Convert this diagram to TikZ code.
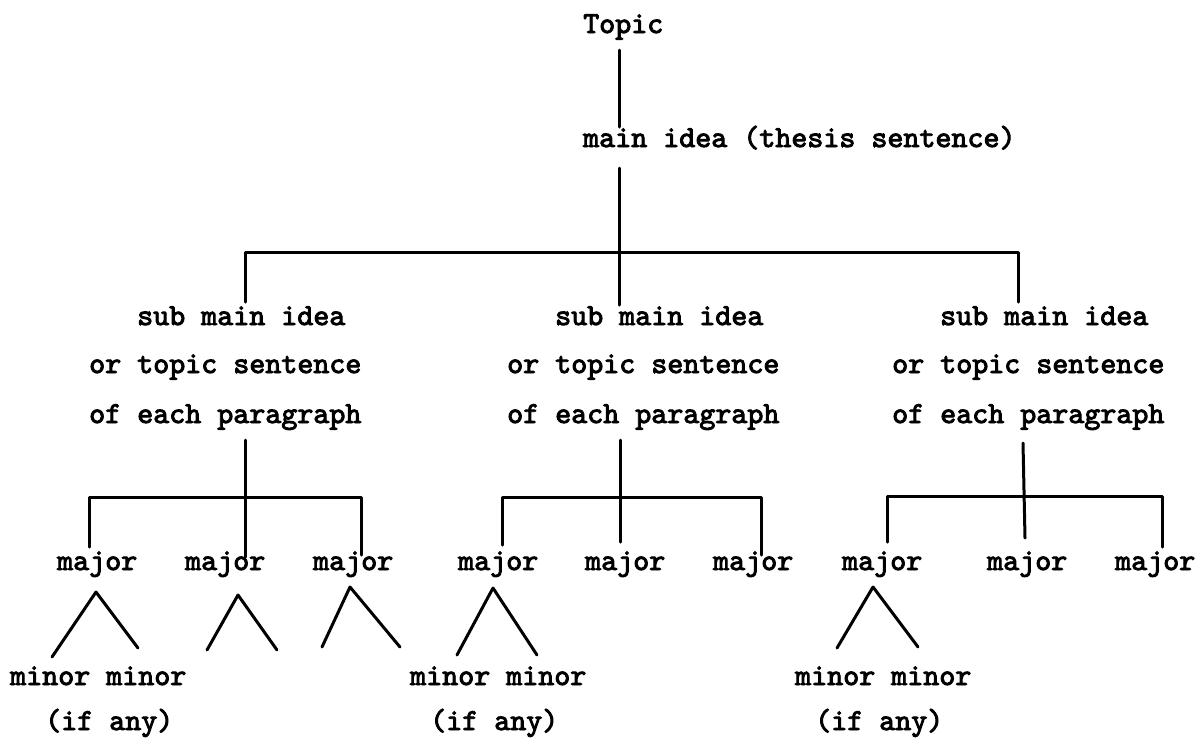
\documentclass[tikz,border=0pt]{standalone}
\usepackage{fontspec}
\newfontfamily\twfont{lmmono10-regular.otf}[FakeBold=3]
\newcommand\diagfont{\twfont\fontsize{30.5}{36}\selectfont}
\tikzset{
  lbl/.style={anchor=base west, inner sep=0pt, font=\diagfont, text=black},
  ln/.style={line width=3pt, line cap=round, line join=round, draw=black}
}
\begin{document}
\begin{tikzpicture}[x=1pt,y=-1pt]
\useasboundingbox[fill=white] (0,0) rectangle (1197,740);
% texts
\node[lbl] (topic) at (583,33) {Topic};
\node[lbl] (main) at (583,147) {main idea (thesis sentence)};
\foreach \n/\L in {a/89,b/507,c/892}{
  \node[lbl] (sub\n1) at (\L+48,325) {sub main idea};
  \node[lbl] (sub\n2) at (\L,373) {or topic sentence};
  \node[lbl] (sub\n3) at (\L,423) {of each paragraph};
}
\foreach \n/\X in {1/57,2/185,3/313,4/458,5/585,6/713,7/842,8/987,9/1115}{
  \node[lbl] (maj\n) at (\X,570) {major};
}
\foreach \n/\X/\Y in {a/10/45,b/410/430,c/795/815}{
  \node[lbl] (min\n) at (\X,685) {minor minor};
  \node[lbl] (ifany\n) at (\Y,730) {(if any)};
}
% connector points
\coordinate (t0) at (619,50);  \coordinate (t1) at (619,127);
\coordinate (m0) at (619,168); \coordinate (m1) at (619,305);
\coordinate (bl) at (245,252); \coordinate (br) at (1018,252);
\coordinate (bld) at (245,302); \coordinate (brd) at (1018,302);
\draw[ln] (t0) -- (t1);
\draw[ln] (m0) -- (m1);
\draw[ln] (bld) -- (bl) -- (br) -- (brd);
% group a
\coordinate (a0) at (245,440); \coordinate (a1) at (245,557);
\coordinate (al) at (89,497); \coordinate (ar) at (361,497);
\coordinate (ald) at (89,547); \coordinate (ard) at (361,555);
\draw[ln] (a0) -- (a1);
\draw[ln] (ald) -- (al) -- (ar) -- (ard);
% group b
\coordinate (b0) at (620,440); \coordinate (b1) at (620,542);
\coordinate (bbl) at (502,497); \coordinate (bbr) at (761,497);
\coordinate (bbld) at (502,545); \coordinate (bbrd) at (761,555);
\draw[ln] (b0) -- (b1);
\draw[ln] (bbld) -- (bbl) -- (bbr) -- (bbrd);
% group c
\coordinate (c0) at (1023,443); \coordinate (c1) at (1025,538);
\coordinate (cl) at (887,496); \coordinate (cr) at (1162,496);
\coordinate (cld) at (887,542); \coordinate (crd) at (1162,547);
\draw[ln] (c0) -- (c1);
\draw[ln] (cld) -- (cl) -- (cr) -- (crd);
% minor branches
\foreach \n/\ax/\ay/\lx/\ly/\rx/\ry in {
  1/96/592/52/657/138/648,
  2/238/595/207/650/277/650,
  3/350/587/322/647/400/647,
  4/493/588/457/655/537/655,
  7/873/587/837/648/918/647}{
  \coordinate (ap\n) at (\ax,\ay);
  \coordinate (fl\n) at (\lx,\ly);
  \coordinate (fr\n) at (\rx,\ry);
  \draw[ln] (fl\n) -- (ap\n) -- (fr\n);
}
\end{tikzpicture}
\end{document}
